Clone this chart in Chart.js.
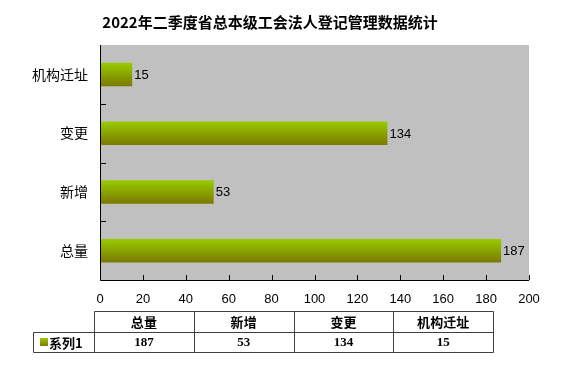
<!DOCTYPE html>
<html>
<head>
<meta charset="utf-8">
<script src="https://cdn.jsdelivr.net/npm/chart.js@4.4.1/dist/chart.umd.min.js"></script>
<style>
  html, body { margin: 0; padding: 0; background: #fff; }
  #wrap { width: 562px; height: 377px; }
</style>
</head>
<body>
<div id="wrap"><canvas id="chart" width="562" height="377"></canvas></div>
<script>
const chartTitle = '2022年二季度省总本级工会法人登记管理数据统计';
const categories = ['总量', '新增', '变更', '机构迁址'];
const seriesName = '系列1';
const values = [187, 53, 134, 15];
const xMin = 0, xMax = 200, xStep = 20;

const CJK = "'Noto Sans CJK SC'";
const NUM = "'Liberation Sans', " + CJK;
const BAR_PCT = 0.4;

function barGradient(ctx, top, bottom) {
    const g = ctx.createLinearGradient(0, top, 0, bottom);
    g.addColorStop(0, '#99cc00');
    g.addColorStop(1, '#7a7a00');
    return g;
}

// per-bar vertical gradient, placed from the category scale
function barFill(c) {
    const chart = c.chart;
    const ys = chart.scales.y;
    const a = chart.chartArea;
    if (!ys || !a) return '#99cc00';
    const mid = ys.getPixelForValue(c.dataIndex);
    const half = (a.bottom - a.top) / categories.length * BAR_PCT / 2;
    return barGradient(chart.ctx, mid - half, mid + half);
}

const decor = {
    id: 'decor',
    beforeDraw(chart) {
        const { ctx, chartArea: a } = chart;
        ctx.save();
        ctx.fillStyle = '#ffffff';
        ctx.fillRect(0, 0, chart.width, chart.height);
        ctx.fillStyle = '#c0c0c0';
        ctx.fillRect(a.left, a.top, a.right - a.left, a.bottom - a.top);
        ctx.restore();
    },
    afterDatasetsDraw(chart) {
        const { ctx } = chart;
        const meta = chart.getDatasetMeta(0);
        ctx.save();
        ctx.fillStyle = '#000';
        ctx.font = '13px ' + NUM;
        ctx.textAlign = 'left';
        ctx.textBaseline = 'middle';
        meta.data.forEach((el, i) => {
            ctx.fillText(String(values[i]), el.x + 2, el.y + 1);
        });
        ctx.restore();
    },
    afterDraw(chart) {
        const { ctx, chartArea: a } = chart;
        const xs = chart.scales.x, ys = chart.scales.y;
        ctx.save();
        // axes
        ctx.strokeStyle = '#000';
        ctx.lineWidth = 1;
        ctx.beginPath();
        ctx.moveTo(a.left + 0.5, a.top);
        ctx.lineTo(a.left + 0.5, a.bottom + 0.5);
        ctx.lineTo(a.right, a.bottom + 0.5);
        ctx.stroke();
        // x tick marks (inside)
        ctx.beginPath();
        for (let v = xMin; v <= xMax; v += xStep) {
            const px = Math.round(xs.getPixelForValue(v)) + 0.5;
            ctx.moveTo(px, a.bottom);
            ctx.lineTo(px, a.bottom - 5);
        }
        // y tick marks between categories
        for (let i = 0; i < categories.length - 1; i++) {
            const py = Math.round((ys.getPixelForValue(i) + ys.getPixelForValue(i + 1)) / 2) + 0.5;
            ctx.moveTo(a.left, py);
            ctx.lineTo(a.left + 6, py);
        }
        ctx.stroke();

        // title
        ctx.fillStyle = '#000';
        ctx.font = 'bold 15px ' + CJK;
        ctx.textAlign = 'center';
        ctx.textBaseline = 'middle';
        ctx.fillText(chartTitle, 270, 22);

        // data table
        const tLeft = 94, tRight = 493, legLeft = 33;
        const r0 = 311, r1 = 332, r2 = 352;
        const colW = (tRight - tLeft) / categories.length;
        ctx.strokeStyle = '#404040';
        ctx.beginPath();
        ctx.moveTo(tLeft + 0.5, r0 + 0.5); ctx.lineTo(tRight + 0.5, r0 + 0.5);
        ctx.moveTo(legLeft + 0.5, r1 + 0.5); ctx.lineTo(tRight + 0.5, r1 + 0.5);
        ctx.moveTo(legLeft + 0.5, r2 + 0.5); ctx.lineTo(tRight + 0.5, r2 + 0.5);
        ctx.moveTo(legLeft + 0.5, r1 + 0.5); ctx.lineTo(legLeft + 0.5, r2 + 0.5);
        for (let i = 0; i <= categories.length; i++) {
            const x = Math.round(tLeft + i * colW) + 0.5;
            ctx.moveTo(x, r0 + 0.5); ctx.lineTo(x, r2 + 0.5);
        }
        ctx.stroke();

        ctx.textAlign = 'center';
        ctx.textBaseline = 'middle';
        categories.forEach((c, i) => {
            const cx = tLeft + (i + 0.5) * colW;
            ctx.font = 'bold 13px ' + CJK;
            ctx.fillText(c, cx, (r0 + r1) / 2 + 1);
            ctx.font = "bold 13px 'Liberation Serif', " + CJK;
            ctx.fillText(String(values[i]), cx, (r1 + r2) / 2 + 1);
        });
        // legend key + series name
        ctx.fillStyle = barGradient(ctx, 338, 346);
        ctx.fillRect(40, 338, 8, 8);
        ctx.fillStyle = '#000';
        ctx.textAlign = 'left';
        ctx.font = "bold 13px " + CJK;
        ctx.fillText(seriesName, 49, (r1 + r2) / 2 + 1);
        ctx.restore();
    }
};

new Chart(document.getElementById('chart'), {
    type: 'bar',
    data: {
        labels: categories,
        datasets: [{
            label: seriesName,
            data: values,
            backgroundColor: barFill,
            borderWidth: 0,
            barPercentage: BAR_PCT,
            categoryPercentage: 1
        }]
    },
    options: {
        indexAxis: 'y',
        responsive: false,
        animation: false,
        devicePixelRatio: 1,
        layout: { padding: { left: 0, right: 33, top: 45, bottom: 67 } },
        plugins: {
            legend: { display: false },
            title: { display: false },
            tooltip: { enabled: false }
        },
        scales: {
            x: {
                min: xMin,
                max: xMax,
                grid: { display: false, drawTicks: false },
                border: { display: false },
                ticks: {
                    stepSize: xStep,
                    padding: 12,
                    color: '#000',
                    maxRotation: 0,
                    autoSkip: false,
                    font: { family: NUM, size: 13 }
                },
                afterFit(s) { s.height = 30; }
            },
            y: {
                reverse: true,
                grid: { display: false, drawTicks: false },
                border: { display: false },
                ticks: {
                    padding: 12,
                    color: '#000',
                    font: { family: CJK, size: 14 }
                },
                afterFit(s) { s.width = 100; }
            }
        }
    },
    plugins: [decor]
});
</script>
</body>
</html>
